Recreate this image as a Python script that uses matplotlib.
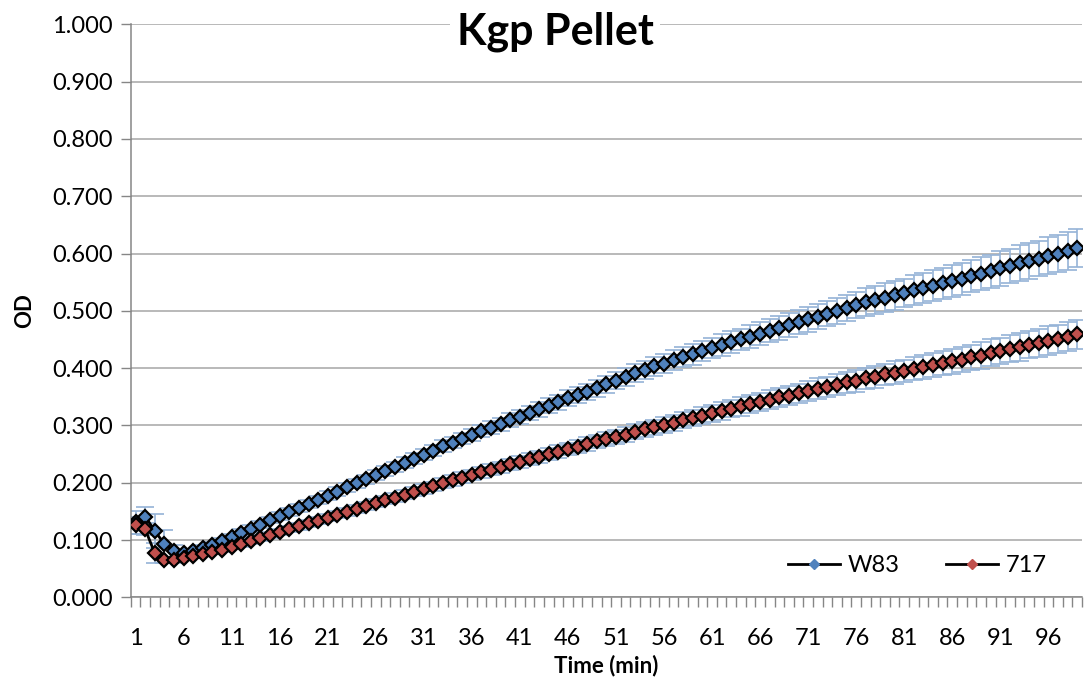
import matplotlib
matplotlib.use("Agg")
import matplotlib.pyplot as plt
from matplotlib.lines import Line2D
from matplotlib.ticker import FixedLocator

plt.rcParams['font.family'] = ['Lato', 'DejaVu Sans']

# time points (min)
time = list(range(1, 100))

# W83 mean OD
w83 = [0.131, 0.141, 0.116, 0.093, 0.081, 0.077, 0.080, 0.086, 0.092, 0.099,
       0.106, 0.113, 0.120, 0.127, 0.135, 0.142, 0.149, 0.156, 0.163, 0.170,
       0.177, 0.184, 0.192, 0.199, 0.206, 0.213, 0.220, 0.228, 0.235, 0.242,
       0.249, 0.256, 0.264, 0.270, 0.277, 0.283, 0.290, 0.296, 0.302, 0.309,
       0.315, 0.321, 0.328, 0.334, 0.340, 0.347, 0.353, 0.359, 0.365, 0.372,
       0.378, 0.384, 0.391, 0.397, 0.403, 0.408, 0.414, 0.419, 0.424, 0.430,
       0.435, 0.440, 0.445, 0.450, 0.455, 0.460, 0.465, 0.470, 0.475, 0.480,
       0.485, 0.490, 0.495, 0.500, 0.505, 0.510, 0.515, 0.519, 0.523, 0.527,
       0.531, 0.536, 0.540, 0.544, 0.548, 0.552, 0.556, 0.560, 0.565, 0.569,
       0.574, 0.578, 0.583, 0.587, 0.591, 0.596, 0.600, 0.605, 0.609]

# 717 mean OD
s717 = [0.126, 0.119, 0.077, 0.065, 0.065, 0.069, 0.072, 0.076, 0.079, 0.083,
        0.088, 0.093, 0.098, 0.104, 0.109, 0.114, 0.119, 0.124, 0.129, 0.134,
        0.139, 0.144, 0.149, 0.154, 0.159, 0.164, 0.169, 0.174, 0.179, 0.184,
        0.189, 0.194, 0.199, 0.204, 0.209, 0.213, 0.218, 0.223, 0.227, 0.232,
        0.236, 0.241, 0.245, 0.250, 0.254, 0.259, 0.263, 0.267, 0.272, 0.276,
        0.280, 0.284, 0.289, 0.293, 0.297, 0.301, 0.305, 0.309, 0.313, 0.317,
        0.321, 0.325, 0.329, 0.333, 0.337, 0.341, 0.345, 0.349, 0.352, 0.356,
        0.360, 0.364, 0.367, 0.371, 0.375, 0.378, 0.382, 0.385, 0.389, 0.392,
        0.395, 0.399, 0.402, 0.405, 0.409, 0.412, 0.415, 0.419, 0.422, 0.427,
        0.430, 0.434, 0.437, 0.441, 0.444, 0.448, 0.451, 0.455, 0.459]

# standard deviations
w83_err = [0.020, 0.016, 0.030, 0.024, 0.010, 0.006, 0.005, 0.005, 0.005, 0.005,
           0.005, 0.006, 0.006, 0.006, 0.006, 0.007, 0.007, 0.007, 0.007, 0.007,
           0.008, 0.008, 0.008, 0.008, 0.008, 0.009, 0.009, 0.009, 0.009, 0.009,
           0.010, 0.010, 0.010, 0.010, 0.010, 0.011, 0.011, 0.011, 0.011, 0.012,
           0.012, 0.012, 0.013, 0.013, 0.013, 0.014, 0.014, 0.014, 0.015, 0.015,
           0.015, 0.016, 0.016, 0.016, 0.016, 0.017, 0.017, 0.017, 0.018, 0.018,
           0.018, 0.019, 0.019, 0.019, 0.020, 0.020, 0.020, 0.021, 0.021, 0.021,
           0.022, 0.022, 0.022, 0.023, 0.023, 0.023, 0.024, 0.024, 0.025, 0.025,
           0.025, 0.026, 0.026, 0.027, 0.027, 0.028, 0.028, 0.028, 0.029, 0.029,
           0.030, 0.030, 0.031, 0.031, 0.031, 0.032, 0.032, 0.033, 0.033]

s717_err = [0.015, 0.010, 0.018, 0.006, 0.005, 0.004, 0.004, 0.004, 0.004, 0.004,
            0.004, 0.005, 0.005, 0.005, 0.005, 0.005, 0.005, 0.006, 0.006, 0.006,
            0.006, 0.006, 0.007, 0.007, 0.007, 0.007, 0.007, 0.008, 0.008, 0.008,
            0.008, 0.008, 0.009, 0.009, 0.009, 0.009, 0.009, 0.010, 0.010, 0.010,
            0.010, 0.010, 0.011, 0.011, 0.011, 0.011, 0.012, 0.012, 0.012, 0.012,
            0.012, 0.013, 0.013, 0.013, 0.013, 0.014, 0.014, 0.014, 0.014, 0.015,
            0.015, 0.015, 0.015, 0.016, 0.016, 0.016, 0.016, 0.017, 0.017, 0.017,
            0.017, 0.018, 0.018, 0.018, 0.018, 0.019, 0.019, 0.019, 0.019, 0.020,
            0.020, 0.020, 0.021, 0.021, 0.021, 0.022, 0.022, 0.022, 0.023, 0.023,
            0.023, 0.023, 0.024, 0.024, 0.024, 0.025, 0.025, 0.025, 0.025]

xtick_labels = [str(t) for t in range(1, 100, 5)]
yticks = [v / 10 for v in range(0, 11)]
ytick_labels = [f"{v:.3f}" for v in yticks]

fig = plt.figure(figsize=(10.86, 6.81), dpi=100)
ax = fig.add_axes([0.1204, 0.1229, 0.8759, 0.8414])

err_color = '#95B3D7'
ax.errorbar(time, w83, yerr=w83_err, fmt='none', ecolor=err_color,
            elinewidth=1.2, capsize=6.5, capthick=1.2, zorder=2)
ax.errorbar(time, s717, yerr=s717_err, fmt='none', ecolor=err_color,
            elinewidth=1.2, capsize=6.5, capthick=1.2, zorder=2)

ax.plot(time, w83, color='black', lw=2, marker='D', ms=6.8,
        mfc='#4F81BD', mec='black', mew=1.6, zorder=3)
ax.plot(time, s717, color='black', lw=2, marker='D', ms=6.8,
        mfc='#C0504D', mec='black', mew=1.6, zorder=3)

ax.set_xlim(0.5, 99.5)
ax.set_ylim(0, 1.0)

# y axis
ax.set_yticks(yticks)
ax.set_yticklabels(ytick_labels)
ax.grid(axis='y', color='#A6A6A6', lw=1.1)
ax.set_axisbelow(True)

# x axis: labels at category centres, ticks at category edges
ax.set_xticks(list(range(1, 100, 5)))
ax.set_xticklabels(xtick_labels)
ax.xaxis.set_minor_locator(FixedLocator([i + 0.5 for i in range(0, 100)]))
ax.tick_params(axis='x', which='major', length=0, pad=22, labelsize=17)
ax.tick_params(axis='x', which='minor', length=7, width=1, color='#868686', direction='out')
ax.tick_params(axis='y', which='major', length=7, width=1, color='#868686', labelsize=17, pad=6)

for s in ['top', 'right']:
    ax.spines[s].set_visible(False)
for s in ['left', 'bottom']:
    ax.spines[s].set_color('#868686')
    ax.spines[s].set_linewidth(1.1)

ax.set_xlabel("Time (min)", fontsize=16, fontweight='bold', labelpad=4)
ax.set_ylabel("OD", fontsize=16, fontweight='bold', labelpad=12)

fig.text(0.511, 0.954, "Kgp Pellet", fontsize=31, fontweight='bold',
         ha='center', va='center',
         bbox=dict(facecolor='white', edgecolor='none', pad=5))

handles = [Line2D([], [], color='black', lw=2, marker='D', ms=5, mfc='#4F81BD', mec='#4F81BD'),
           Line2D([], [], color='black', lw=2, marker='D', ms=5, mfc='#C0504D', mec='#C0504D')]
ax.legend(handles, ['W83', '717'], loc='lower right', ncol=2, frameon=False,
          fontsize=17, bbox_to_anchor=(0.985, 0.0), handlelength=2.2, columnspacing=2.0,
          handletextpad=0.3)

fig.savefig("out.png", dpi=100)
